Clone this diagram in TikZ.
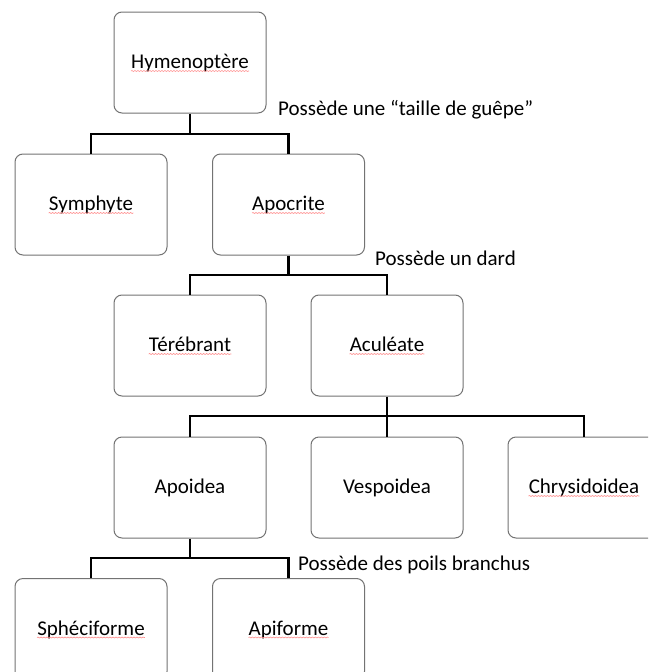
\documentclass[tikz,border=0pt]{standalone}
\usepackage{fontspec}
\setmainfont{Carlito}
\usetikzlibrary{decorations.pathmorphing}
\begin{document}
\begin{tikzpicture}[x=1pt,y=-1pt,
  taxbox/.style={draw=black!55,line width=1pt,rounded corners=8pt,fill=white,
    minimum width=152pt,minimum height=101pt,inner sep=0pt},
  taxtext/.style={anchor=base,inner sep=0pt,font=\fontsize{21}{25}\selectfont},
  squig/.style={draw=red!45,line width=0.6pt,decorate,
    decoration={snake,amplitude=0.5pt,segment length=3pt}},
  link/.style={draw=black,line width=2.9pt},
  note/.style={anchor=base west,inner sep=0pt,font=\fontsize{21}{25}\selectfont}]
\useasboundingbox (0,0) rectangle (648,672);
\clip (0,0) rectangle (648,672);
\node[taxbox] (hym) at (190,62.5) {};
\node[taxbox] (sym) at (91,204.5) {};
\node[taxbox] (apo) at (288.5,204.5) {};
\node[taxbox] (ter) at (190,345.5) {};
\node[taxbox] (acu) at (387,345.5) {};
\node[taxbox] (apoi) at (190,487.5) {};
\node[taxbox] (ves) at (387,487.5) {};
\node[taxbox] (chr) at (584,487.5) {};
\node[taxbox] (sph) at (91,629) {};
\node[taxbox] (api) at (288.5,629) {};
\node[taxtext] (thym) at ([yshift=-6pt]hym.center) {Hymenoptère};
\node[taxtext] (tsym) at ([yshift=-6pt]sym.center) {Symphyte};
\node[taxtext] (tapo) at ([yshift=-6pt]apo.center) {Apocrite};
\node[taxtext] (tter) at ([yshift=-6pt]ter.center) {Térébrant};
\node[taxtext] (tacu) at ([yshift=-6pt]acu.center) {Aculéate};
\node[taxtext] (tapoi) at ([yshift=-6pt]apoi.center) {Apoidea};
\node[taxtext] (tves) at ([yshift=-6pt]ves.center) {Vespoidea};
\node[taxtext] (tchr) at ([yshift=-6pt]chr.center) {Chrysidoidea};
\node[taxtext] (tsph) at ([yshift=-6pt]sph.center) {Sphéciforme};
\node[taxtext] (tapi) at ([yshift=-6pt]api.center) {Apiforme};
\foreach \t in {thym,tsym,tapo,tter,tacu,tchr,tsph,tapi}
  \draw[squig] ([yshift=-2.5pt]\t.base west) -- ([yshift=-2.5pt]\t.base east);
\coordinate (b1) at (190,134);
\coordinate (b2) at (288.5,275);
\coordinate (b3) at (387,416);
\coordinate (b4) at (190,558);
\draw[link] (hym.south) -- (b1);
\draw[link] (sym.north) |- (b1) -| (apo.north);
\draw[link] (apo.south) -- (b2);
\draw[link] (ter.north) |- (b2) -| (acu.north);
\draw[link] (acu.south) -- (b3);
\draw[link] (apoi.north) |- (b3) -| (chr.north);
\draw[link] (ves.north) -- (b3);
\draw[link] (apoi.south) -- (b4);
\draw[link] (sph.north) |- (b4) -| (api.north);
\node[note] (n1) at (278,115) {Possède une “taille de guêpe”};
\node[note] (n2) at (375,265) {Possède un dard};
\node[note] (n3) at (298,570) {Possède des poils branchus};
\end{tikzpicture}
\end{document}
